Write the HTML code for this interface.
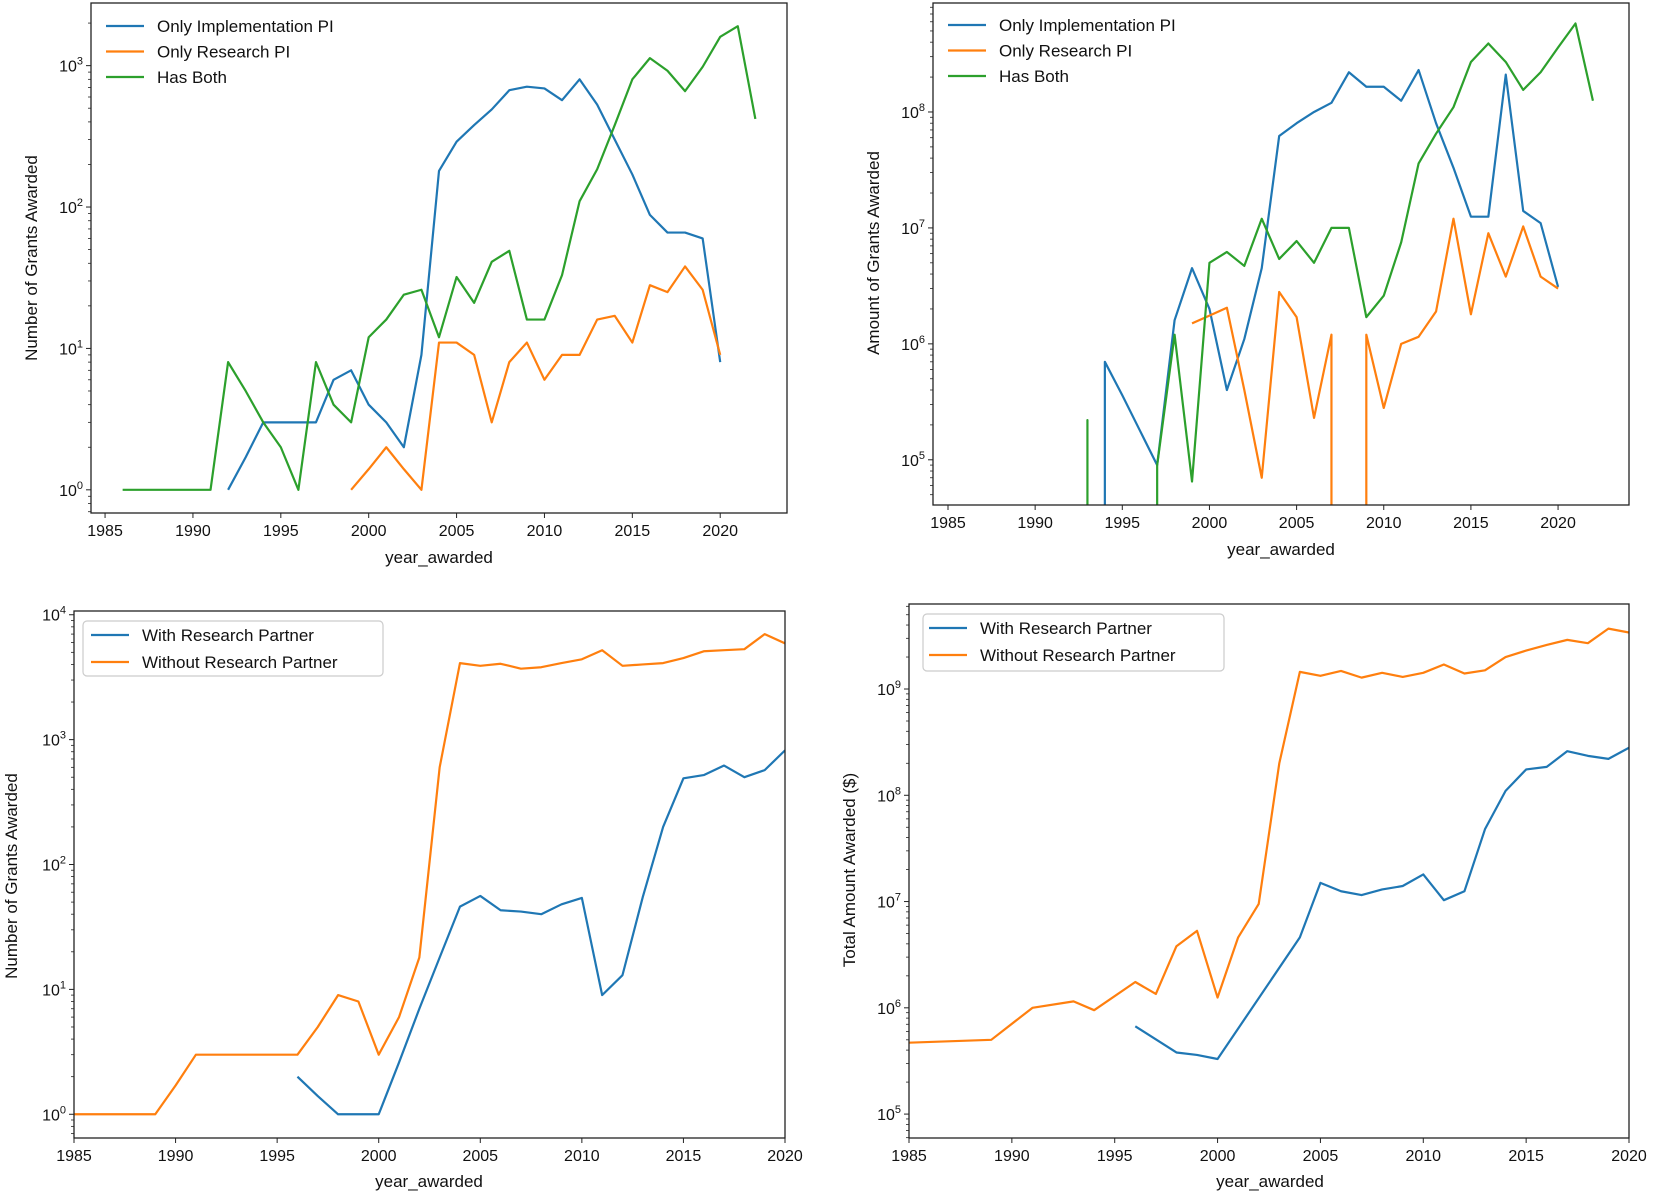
<!DOCTYPE html>
<html><head><meta charset="utf-8">
<style>
html,body{margin:0;padding:0;background:#fff;width:1654px;height:1197px;overflow:hidden;}
svg{display:block;position:absolute;left:0;top:0;overflow:hidden;font-family:"Liberation Sans","DejaVu Sans",sans-serif;}
</style></head>
<body>
<svg id="fig" width="1654" height="1197" viewBox="0 0 1654 1197" xmlns="http://www.w3.org/2000/svg"></svg>
<script>
// ---- Panel 1: number of grants by PI type ----
const p1Years = [1986,1987,1988,1989,1990,1991,1992,1993,1994,1995,1996,1997,1998,1999,2000,2001,2002,2003,2004,2005,2006,2007,2008,2009,2010,2011,2012,2013,2014,2015,2016,2017,2018,2019,2020,2021,2022];
const p1ImplYears = [1992,1993,1994,1995,1996,1997,1998,1999,2000,2001,2002,2003,2004,2005,2006,2007,2008,2009,2010,2011,2012,2013,2014,2015,2016,2017,2018,2019,2020];
const p1Impl = [1,1.7,3,3,3,3,6,7,4,3,2,9,180,290,380,490,670,710,690,570,800,530,300,170,88,66,66,60,8];
const p1ResYears = [1999,2000,2001,2002,2003,2004,2005,2006,2007,2008,2009,2010,2011,2012,2013,2014,2015,2016,2017,2018,2019,2020];
const p1Res = [1,1.4,2,1.4,1,11,11,9,3,8,11,6,9,9,16,17,11,28,25,38,26,9];
const p1Both = [1,1,1,1,1,1,8,5,3,2,1,8,4,3,12,16,24,26,12,32,21,41,49,16,16,33,110,185,380,800,1130,920,660,980,1600,1900,420];
// ---- Panel 2: amount by PI type ----
const p2ImplYears = [1993,1994,1995,1996,1997,1998,1999,2000,2001,2002,2003,2004,2005,2006,2007,2008,2009,2010,2011,2012,2013,2014,2015,2016,2017,2018,2019,2020];
const p2Impl = [0,7e5,3.6e5,1.8e5,9e4,1.6e6,4.5e6,2e6,4e5,1.1e6,4.5e6,6.2e7,8e7,1e8,1.2e8,2.2e8,1.65e8,1.65e8,1.25e8,2.3e8,8e7,3.3e7,1.25e7,1.25e7,2.1e8,1.4e7,1.1e7,3.1e6];
const p2ResYears = [1999,2000,2001,2002,2003,2004,2005,2006,2007,2008,2009,2010,2011,2012,2013,2014,2015,2016,2017,2018,2019,2020];
const p2Res = [1.5e6,1.75e6,2.05e6,4e5,7e4,2.8e6,1.7e6,2.3e5,1.2e6,0,1.2e6,2.8e5,1e6,1.15e6,1.9e6,1.2e7,1.8e6,9e6,3.8e6,1.03e7,3.8e6,3e6];
const p2BothYears = [1992,1993,1994,1995,1996,1997,1998,1999,2000,2001,2002,2003,2004,2005,2006,2007,2008,2009,2010,2011,2012,2013,2014,2015,2016,2017,2018,2019,2020,2021,2022];
const p2Both = [0,2.2e5,0,0,0,9e4,1.2e6,6.5e4,5e6,6.2e6,4.7e6,1.2e7,5.4e6,7.7e6,5e6,1e7,1e7,1.7e6,2.6e6,7.5e6,3.6e7,6.5e7,1.1e8,2.7e8,3.9e8,2.7e8,1.55e8,2.2e8,3.6e8,5.8e8,1.25e8];
// ---- Panel 3: number with/without research partner ----
const p3WithYears = [1996,1997,1998,1999,2000,2001,2002,2003,2004,2005,2006,2007,2008,2009,2010,2011,2012,2013,2014,2015,2016,2017,2018,2019,2020];
const p3With = [2,1.4,1,1,1,2.6,7,18,46,56,43,42,40,48,54,9,13,55,200,490,520,620,500,570,820];
const p3WithoutYears = [1985,1986,1987,1988,1989,1990,1991,1992,1993,1994,1995,1996,1997,1998,1999,2000,2001,2002,2003,2004,2005,2006,2007,2008,2009,2010,2011,2012,2013,2014,2015,2016,2017,2018,2019,2020];
const p3Without = [1,1,1,1,1,1.7,3,3,3,3,3,3,5,9,8,3,6,18,600,4100,3900,4050,3700,3800,4100,4400,5200,3900,4000,4100,4500,5100,5200,5300,7000,5900];
// ---- Panel 4: total amount with/without research partner ----
const p4WithYears = [1996,1998,1999,2000,2004,2005,2006,2007,2008,2009,2010,2011,2012,2013,2014,2015,2016,2017,2018,2019,2020];
const p4With = [6.7e5,3.8e5,3.6e5,3.3e5,4.6e6,1.5e7,1.25e7,1.15e7,1.3e7,1.4e7,1.8e7,1.03e7,1.25e7,4.8e7,1.1e8,1.75e8,1.85e8,2.6e8,2.35e8,2.2e8,2.8e8];
const p4WithoutYears = [1985,1989,1991,1993,1994,1996,1997,1998,1999,2000,2001,2002,2003,2004,2005,2006,2007,2008,2009,2010,2011,2012,2013,2014,2015,2016,2017,2018,2019,2020];
const p4Without = [4.7e5,5e5,1e6,1.15e6,9.5e5,1.75e6,1.35e6,3.8e6,5.3e6,1.25e6,4.6e6,9.5e6,2e8,1.45e9,1.33e9,1.48e9,1.28e9,1.42e9,1.3e9,1.42e9,1.7e9,1.4e9,1.5e9,2e9,2.3e9,2.6e9,2.9e9,2.7e9,3.7e9,3.4e9];

const xTicks = [1985,1990,1995,2000,2005,2010,2015,2020];
const BLUE='#1f77b4', ORANGE='#ff7f0e', GREEN='#2ca02c';
const NS='http://www.w3.org/2000/svg';
const svg=document.getElementById('fig');
function mk(tag,attrs,parent){const e=document.createElementNS(NS,tag);for(const k in attrs)e.setAttribute(k,attrs[k]);(parent||svg).appendChild(e);return e;}

function panel(cfg){
  const g=mk('g',{});
  
  
  const {L,R,T,B,x0,x1,y0,y1}=cfg;
  const xs=v=>L+(v-x0)/(x1-x0)*(R-L);
  const ys=v=>B-(Math.log10(v)-y0)/(y1-y0)*(B-T);
  const cid='clip-'+cfg.name;
  const cp=mk('clipPath',{id:cid},g);mk('rect',{x:L,y:T,width:R-L,height:B-T},cp);
  cfg.series.forEach(s=>{
    let d='';let prevOk=false;
    s.x.forEach((yr,i)=>{
      const v=s.y[i];const x=xs(yr).toFixed(2);
      if(v>0){
        const y=ys(v).toFixed(2);
        if(prevOk) d+=' L'+x+','+y;
        else if(i>0) d+=' M'+x+','+B+' L'+x+','+y;
        else d+=' M'+x+','+y;
        prevOk=true;
      }else{
        if(prevOk){const px=xs(s.x[i-1]).toFixed(2);d+=' L'+px+','+B;}
        prevOk=false;
      }
    });
    const pl=mk('path',{d:d.trim(),fill:'none',stroke:s.color,'stroke-width':2.2,'stroke-linejoin':'round','clip-path':'url(#'+cid+')'},g);
    
    
  });
  const fr=mk('rect',{x:L,y:T,width:R-L,height:B-T,fill:'none',stroke:'#222','stroke-width':1.3},g);
  
  
  xTicks.forEach(t=>{
    const x=xs(t); if(x<L-1||x>R+1)return;
    mk('line',{x1:x,y1:B,x2:x,y2:B+5,stroke:'#222','stroke-width':1},g);
    const tx=mk('text',{x:x,y:B+23,'text-anchor':'middle','font-size':16,fill:'#111'},g);
    tx.textContent=t;
    
    
  });
  for(let d=Math.floor(y0);d<=Math.ceil(y1);d++){
    for(let m=1;m<10;m++){
      const lv=d+Math.log10(m); if(lv<y0||lv>y1)continue;
      const y=B-(lv-y0)/(y1-y0)*(B-T);
      mk('line',{x1:L,y1:y,x2:L-(m===1?5:3),y2:y,stroke:'#222','stroke-width':m===1?1:0.8},g);
      if(m===1){
        const tx=mk('text',{x:L-8,y:y+6,'text-anchor':'end','font-size':16,fill:'#111'},g);
        
        
        const a=mk('tspan',{},tx);a.textContent='10';
        const b=mk('tspan',{dy:-7,'font-size':11},tx);b.textContent=d;
      }
    }
  }
  const xl=mk('text',{x:cfg.xlx,y:cfg.xly,'text-anchor':'middle','font-size':17,fill:'#111'},g);
  xl.textContent='year_awarded';
  
  
  const yl=mk('text',{x:cfg.ylx,y:cfg.yly,'text-anchor':'middle','font-size':17,fill:'#111',transform:'rotate(-90 '+cfg.ylx+' '+cfg.yly+')'},g);
  yl.textContent=cfg.ylabel;
  
  
  const lg=mk('g',{},g);
  
  
  if(cfg.legBox){const b=cfg.legBox;mk('rect',{x:b[0],y:b[1],width:b[2],height:b[3],rx:4,fill:'#fff',stroke:'#ccc','stroke-width':1.2},lg);}
  cfg.series.forEach((s,i)=>{
    const y=cfg.legY+i*cfg.legDy;
    const e=mk('g',{},lg);
    
    
    mk('line',{x1:cfg.legX,y1:y,x2:cfg.legX+38,y2:y,stroke:s.color,'stroke-width':2.2},e);
    const t=mk('text',{x:cfg.legX+51,y:y+6,'font-size':17,fill:'#111'},e);
    t.textContent=s.label;
  });
}

panel({name:'grant-count-by-pi',L:91,R:787,T:3,B:513,x0:1984.2,x1:2023.8,y0:-0.164,y1:3.443,
  xlx:439,xly:563,ylx:37,yly:258,ylabel:'Number of Grants Awarded',legX:106,legY:26,legDy:25.5,
  series:[{id:'line-only-implementation-pi',label:'Only Implementation PI',color:BLUE,x:p1ImplYears,y:p1Impl},
          {id:'line-only-research-pi',label:'Only Research PI',color:ORANGE,x:p1ResYears,y:p1Res},
          {id:'line-has-both',label:'Has Both',color:GREEN,x:p1Years,y:p1Both}]});
panel({name:'grant-amount-by-pi',L:933,R:1629,T:3,B:505,x0:1984.14,x1:2024.07,y0:4.61,y1:8.94,
  xlx:1281,xly:555,ylx:879,yly:253,ylabel:'Amount of Grants Awarded',legX:948,legY:25,legDy:25.5,
  series:[{id:'line-only-implementation-pi',label:'Only Implementation PI',color:BLUE,x:p2ImplYears,y:p2Impl},
          {id:'line-only-research-pi',label:'Only Research PI',color:ORANGE,x:p2ResYears,y:p2Res},
          {id:'line-has-both',label:'Has Both',color:GREEN,x:p2BothYears,y:p2Both}]});
panel({name:'grant-count-by-partner',L:74,R:785,T:611,B:1138,x0:1985,x1:2020,y0:-0.19,y1:4.03,
  xlx:429,xly:1187,ylx:17,yly:876,ylabel:'Number of Grants Awarded',legX:91,legY:635,legDy:27,legBox:[83,621,300,55],
  series:[{id:'line-with-research-partner',label:'With Research Partner',color:BLUE,x:p3WithYears,y:p3With},
          {id:'line-without-research-partner',label:'Without Research Partner',color:ORANGE,x:p3WithoutYears,y:p3Without}]});
panel({name:'grant-amount-by-partner',L:909,R:1629,T:604,B:1138,x0:1985,x1:2020,y0:4.775,y1:9.80,
  xlx:1270,xly:1187,ylx:855,yly:870,ylabel:'Total Amount Awarded ($)',legX:929,legY:628,legDy:27,legBox:[923,614,301,57],
  series:[{id:'line-with-research-partner',label:'With Research Partner',color:BLUE,x:p4WithYears,y:p4With},
          {id:'line-without-research-partner',label:'Without Research Partner',color:ORANGE,x:p4WithoutYears,y:p4Without}]});
</script>
</body></html>
